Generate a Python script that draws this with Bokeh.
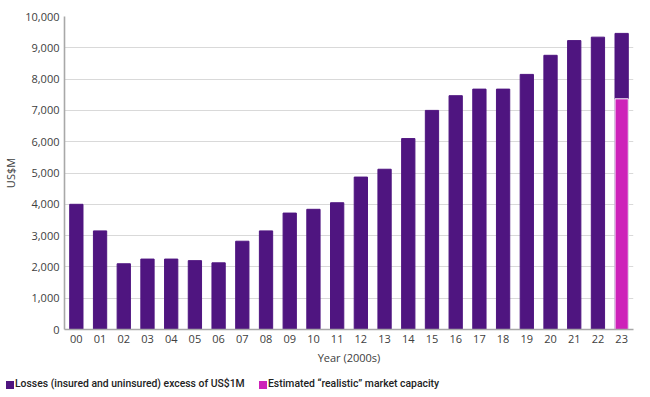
from bokeh.plotting import figure
from bokeh.layouts import column
from bokeh.models import NumeralTickFormatter, FixedTicker, Div
from bokeh.embed import file_html
from bokeh.resources import INLINE

years = ["00", "01", "02", "03", "04", "05", "06", "07", "08", "09", "10", "11",
         "12", "13", "14", "15", "16", "17", "18", "19", "20", "21", "22", "23"]
losses = [4000, 3150, 2100, 2250, 2250, 2200, 2130, 2820, 3150, 3720, 3840, 4050,
          4870, 5120, 6100, 7000, 7470, 7680, 7680, 8150, 8760, 9230, 9340, 9460]
capacity_years = ["23"]
capacity = [7370]
y_ticks = [0, 1000, 2000, 3000, 4000, 5000, 6000, 7000, 8000, 9000, 10000]
legend_labels = ["Losses (insured and uninsured) excess of US$1M",
                 "Estimated \u201crealistic\u201d market capacity"]

PURPLE = "#4F1580"
PINK = "#CD22B9"
FONT = "Open Sans"
TEXT = "#404040"

p = figure(x_range=years, y_range=(0, 10000), width=640, height=374,
           output_backend="svg", toolbar_location=None,
           min_border_left=63, min_border_right=7, min_border_top=16, min_border_bottom=45)

r_loss = p.vbar(x=years, top=losses, width=0.56, color=PURPLE)
r_cap = p.vbar(x=capacity_years, top=capacity, width=0.56, fill_color=PINK,
               line_color="white", line_width=1)

p.outline_line_color = None
p.xgrid.grid_line_color = None
p.ygrid.grid_line_color = "#d9d9d9"
p.ygrid.grid_line_width = 1

p.yaxis.ticker = FixedTicker(ticks=y_ticks)
p.yaxis.formatter = NumeralTickFormatter(format="0,0")
for ax in (p.xaxis[0], p.yaxis[0]):
    ax.axis_line_color = "#a8a8a8"
    ax.axis_line_width = 1.6
    ax.major_tick_line_color = None
    ax.minor_tick_line_color = None
    ax.major_tick_out = 0
    ax.major_tick_in = 0
    ax.minor_tick_out = 0
    ax.minor_tick_in = 0
    ax.major_label_text_font = FONT
    ax.major_label_text_font_size = "11px"
    ax.major_label_text_color = TEXT
    ax.axis_label_text_font = FONT
    ax.axis_label_text_font_size = "11px"
    ax.axis_label_text_font_style = "normal"
    ax.axis_label_text_color = TEXT

p.yaxis.major_label_standoff = 5
p.yaxis.axis_label = "US$M"
p.yaxis.axis_label_standoff = 4
p.xaxis.major_label_standoff = 5
p.xaxis.axis_label = "Year (2000s)"
p.xaxis.axis_label_standoff = 4

# legend strip below the chart
def item(color, label, sq_left, txt_left):
    return (
        f'<span style="position:absolute;left:{sq_left}px;top:7px;width:7.5px;height:7.5px;'
        f'background:{color};"></span>'
        f'<span style="position:absolute;left:{txt_left}px;top:3px;line-height:13px;'
        f'white-space:nowrap;">{label}</span>'
    )

legend_html = (
    '<div style="position:relative;width:640px;height:21px;font-family:Roboto;'
    'font-size:10.4px;font-weight:500;color:#222222;">'
    + item(PURPLE, legend_labels[0], 6, 15)
    + item(PINK, legend_labels[1], 259, 268)
    + '</div>'
)
legend_div = Div(text=legend_html, width=640, height=21, margin=0)

layout = column(p, legend_div, spacing=0)
open("out.html", "w").write(file_html(layout, INLINE))
